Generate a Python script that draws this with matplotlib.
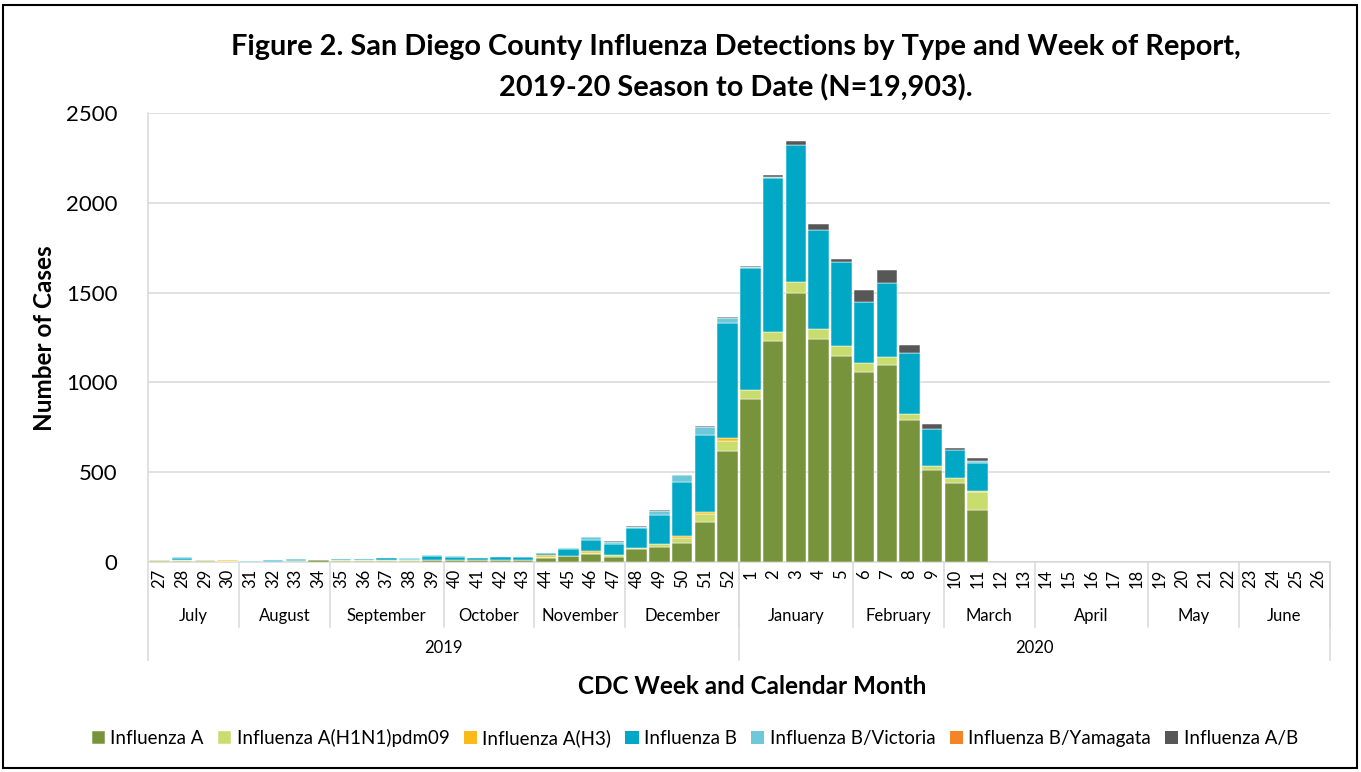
import matplotlib
matplotlib.use("Agg")
import matplotlib.pyplot as plt
from matplotlib.patches import Rectangle
from matplotlib.lines import Line2D
import numpy as np

plt.rcParams['font.family'] = ['Lato', 'DejaVu Sans']

weeks = [27, 28, 29, 30, 31, 32, 33, 34, 35, 36, 37, 38, 39, 40, 41, 42, 43, 44, 45, 46, 47, 48, 49, 50, 51, 52,
         1, 2, 3, 4, 5, 6, 7, 8, 9, 10, 11, 12, 13, 14, 15, 16, 17, 18, 19, 20, 21, 22, 23, 24, 25, 26]

months = ["July", "August", "September", "October", "November", "December",
          "January", "February", "March", "April", "May", "June"]
month_sizes = [4, 4, 5, 4, 4, 5, 5, 4, 4, 5, 4, 4]
years = ["2019", "2020"]
year_sizes = [26, 26]

z15 = [0] * 15
flu_a = [7, 8, 3, 2, 2, 2, 4, 10, 8, 8, 8, 8, 10, 10, 10, 10, 10, 24, 31, 43, 30, 70, 85, 104, 224, 620,
         906, 1232, 1500, 1241, 1145, 1056, 1095, 793, 511, 441, 291] + z15
flu_h1n1 = [3, 3, 7, 2, 0, 0, 0, 3, 2, 3, 2, 2, 3, 3, 2, 3, 3, 6, 3, 7, 9, 6, 15, 31, 43, 52,
            51, 51, 59, 54, 55, 51, 44, 31, 26, 26, 98] + z15
flu_h3 = [0, 2, 0, 7, 0, 0, 0, 0, 0, 2, 0, 0, 0, 0, 0, 0, 0, 9, 0, 9, 0, 0, 0, 9, 14, 17,
          0, 0, 0, 0, 0, 0, 0, 0, 0, 0, 5] + z15
flu_b = [0, 9, 0, 0, 0, 0, 2, 0, 6, 1, 12, 6, 22, 17, 13, 16, 13, 9, 41, 63, 63, 111, 163, 304, 428, 644,
         678, 856, 765, 551, 469, 341, 417, 339, 204, 159, 158] + z15
flu_b_vic = [0, 4, 0, 0, 5, 9, 13, 0, 0, 0, 0, 4, 2, 1, 0, 0, 2, 2, 4, 15, 11, 9, 20, 35, 43, 24,
             5, 5, 0, 0, 0, 0, 0, 0, 0, 0, 9] + z15
flu_b_yam = [0] * 52
flu_ab = [0, 0, 0, 0, 0, 0, 0, 0, 0, 0, 0, 0, 0, 0, 0, 0, 0, 2, 0, 4, 4, 6, 8, 4, 5, 6,
          6, 10, 21, 34, 16, 65, 72, 46, 28, 9, 19] + z15

series = [
    ("Influenza A", flu_a, "#77933C"),
    ("Influenza A(H1N1)pdm09", flu_h1n1, "#C9DC6E"),
    ("Influenza A(H3)", flu_h3, "#F9BA1A"),
    ("Influenza B", flu_b, "#00A8C6"),
    ("Influenza B/Victoria", flu_b_vic, "#6DC9DA"),
    ("Influenza B/Yamagata", flu_b_yam, "#F58427"),
    ("Influenza A/B", flu_ab, "#575757"),
]

W, H = 1361, 772
fig = plt.figure(figsize=(W / 100, H / 100), dpi=100)
L, R, T, B = 148, 1330, 113, 562
ax = fig.add_axes([L / W, 1 - B / H, (R - L) / W, (B - T) / H])

x = np.arange(len(weeks))
bottom = np.zeros(len(weeks))
for name, vals, col in series:
    v = np.array(vals, dtype=float)
    lws = np.where(v > 0, 0.35, 0.0)
    ax.bar(x, v, bottom=bottom, width=0.9, color=col, edgecolor="white", linewidth=lws, label=name, zorder=3)
    bottom += v

ax.set_xlim(-0.5, len(weeks) - 0.5)
ax.set_ylim(0, 2500)
ax.set_yticks([0, 500, 1000, 1500, 2000, 2500])
ax.yaxis.grid(True, color="#D9D9D9", linewidth=1.1, zorder=0)
ax.set_axisbelow(True)
for s in ["top", "right"]:
    ax.spines[s].set_visible(False)
ax.spines["left"].set_visible(False)
ax.spines["bottom"].set_color("#D9D9D9")
ax.spines["bottom"].set_linewidth(1.1)
ax.tick_params(axis="y", length=0, labelsize=16, pad=22, labelcolor="#000000")
ax.set_xticks(x)
ax.set_xticklabels([str(w) for w in weeks], rotation=90, fontsize=12)
ax.tick_params(axis="x", length=0, pad=5)

ah = B - T
trans = ax.get_xaxis_transform()
sep_col = "#D9D9D9"
ax.add_line(Line2D([-0.5, -0.5], [1, -(660 - B) / ah], transform=trans, color=sep_col, lw=1.1, clip_on=False))
start = 0
for m, n in zip(months, month_sizes):
    ax.text(start + n / 2 - 0.5, -(616 - B) / ah, m, transform=trans, ha="center", va="center", fontsize=12)
    end = start + n
    ax.add_line(Line2D([end - 0.5, end - 0.5], [0, -(627 - B) / ah], transform=trans, color=sep_col, lw=1.1, clip_on=False))
    start = end
start = 0
for yname, n in zip(years, year_sizes):
    ax.text(start + n / 2 - 0.5, -(648 - B) / ah, yname, transform=trans, ha="center", va="center", fontsize=12)
    end = start + n
    ax.add_line(Line2D([end - 0.5, end - 0.5], [0, -(660 - B) / ah], transform=trans, color=sep_col, lw=1.1, clip_on=False))
    start = end

fig.text(736 / W, 1 - 47 / H, "Figure 2. San Diego County Influenza Detections by Type and Week of Report,",
         ha="center", va="center", fontsize=20.8, fontweight="bold")
fig.text(736 / W, 1 - 88 / H, "2019-20 Season to Date (N=19,903).",
         ha="center", va="center", fontsize=20.8, fontweight="bold")
fig.text(45 / W, 1 - 338 / H, "Number of Cases", rotation=90, ha="center", va="center", fontsize=17.5, fontweight="bold")
fig.text(752 / W, 1 - 686 / H, "CDC Week and Calendar Month", ha="center", va="center", fontsize=17.5, fontweight="bold")

handles, labels = ax.get_legend_handles_labels()
fig.legend(handles, labels, loc="center", bbox_to_anchor=(695 / W, 1 - 738 / H), ncol=7, frameon=False,
           fontsize=13.5, handlelength=0.7, handleheight=0.7, handletextpad=0.3, columnspacing=0.75)

fig.add_artist(Rectangle((3 / W, 4 / H), (1357 - 3) / W, (767 - 4) / H, transform=fig.transFigure,
                         fill=False, edgecolor="black", linewidth=1.5))

fig.savefig("out.png", dpi=100)
